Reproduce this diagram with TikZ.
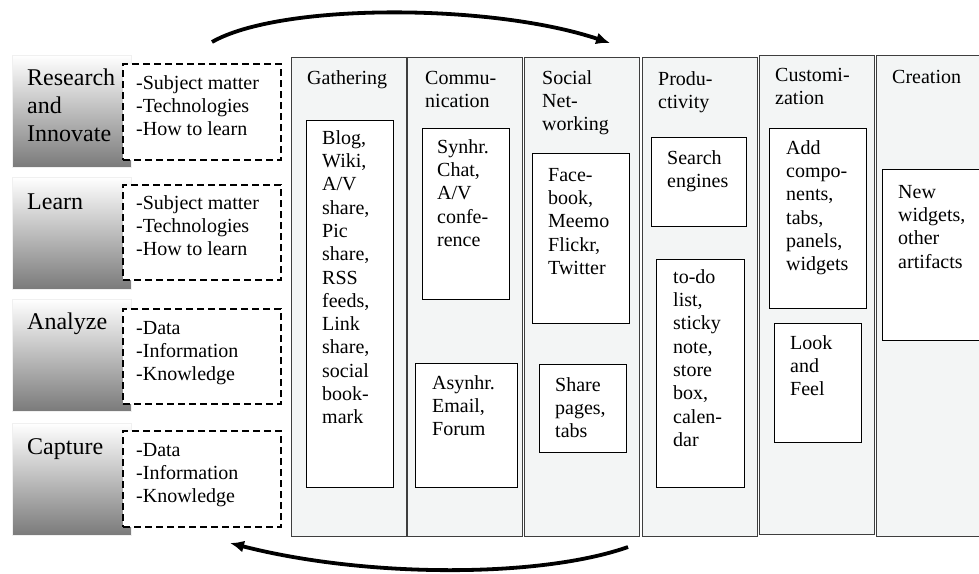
\documentclass[tikz,border=0pt]{standalone}
\usepackage{fontspec}
\setmainfont{Liberation Serif}
\usetikzlibrary{arrows.meta}
\definecolor{colfill}{RGB}{243,245,245}
\definecolor{colline}{RGB}{62,62,62}

\tikzset{
  stage/.style={anchor=north west, inner sep=0pt, minimum width=119pt, minimum height=112pt,
    top color=white, bottom color=black!52, draw=black!6},
  topics/.style={anchor=north west, inner sep=0pt, minimum width=158pt, fill=white, draw,
    line width=2pt, dash pattern=on 7pt off 4pt},
  column/.style={anchor=north west, inner sep=0pt, minimum width=115pt, fill=colfill,
    draw=colline, line width=1.1pt},
  tool/.style={anchor=north west, inner sep=0pt, fill=white, draw, line width=0.9pt},
  txt/.style={anchor=north west, inner sep=0pt, align=left, font=\fontsize{20}{23.3}\selectfont},
  bigtxt/.style={anchor=north west, inner sep=0pt, align=left, font=\fontsize{24}{28}\selectfont},
  turnarrow/.style={line width=3.8pt, -{Latex[length=14pt,width=12pt]}}
}

\begin{document}
\begin{tikzpicture}[x=1pt,y=-1pt]
\useasboundingbox (0,0) rectangle (979,573);
% stages on the left
\node[stage] (research) at (12,55) {};
\node[stage] (learn) at (12,177) {};
\node[stage] (analyze) at (12,299) {};
\node[stage] (capture) at (12,423) {};
\node[bigtxt] (researchtxt) at (27,65.4) {\strut Research\\and\\Innovate};
\node[bigtxt] (learntxt) at (27,189.4) {\strut Learn};
\node[bigtxt] (analyzetxt) at (27,309.4) {\strut Analyze};
\node[bigtxt] (capturetxt) at (27,434.4) {\strut Capture};
% what each stage deals with
\node[topics, minimum height=96pt] (researchtop) at (122,63) {};
\node[topics, minimum height=95pt] (learntop) at (122,184) {};
\node[topics, minimum height=95pt] (analyzetop) at (122,308) {};
\node[topics, minimum height=96pt] (capturetop) at (122,430) {};
\node[txt] (researchlist) at (136,72.7) {\strut -Subject matter\\-Technologies\\-How to learn};
\node[txt] (learnlist) at (136,192.7) {\strut -Subject matter\\-Technologies\\-How to learn};
\node[txt] (analyzelist) at (136,317.7) {\strut -Data\\-Information\\-Knowledge};
\node[txt] (capturelist) at (136,439.7) {\strut -Data\\-Information\\-Knowledge};
% columns
\node[column, minimum height=479pt] (gather) at (291,57) {};
\node[column, minimum height=479pt] (commu) at (407,57) {};
\node[column, minimum height=479pt] (social) at (524,57) {};
\node[column, minimum height=479pt] (produ) at (642,57) {};
\node[column, minimum height=479pt] (custom) at (759,55) {};
\node[column, minimum height=481pt, minimum width=125pt] (create) at (876,55) {};
\node[txt] (gathertitle) at (307,67.7) {\strut Gathering};
\node[txt] (commutitle) at (425,67.7) {\strut Commu-\\nication};
\node[txt] (socialtitle) at (542,67.7) {\strut Social\\Net-\\working};
\node[txt] (produtitle) at (658,68.7) {\strut Produ-\\ctivity};
\node[txt] (customtitle) at (775,64.7) {\strut Customi-\\zation};
\node[txt] (createtitle) at (892,66.7) {\strut Creation};
% tools inside the columns
\node[tool, minimum width=87pt, minimum height=367pt] (blog) at (306,120) {};
\node[tool, minimum width=87pt, minimum height=171pt] (synhr) at (422,128) {};
\node[tool, minimum width=102pt, minimum height=124pt] (asynhr) at (415,363) {};
\node[tool, minimum width=97pt, minimum height=170pt] (face) at (532,153) {};
\node[tool, minimum width=87pt, minimum height=88pt] (share) at (539,364) {};
\node[tool, minimum width=95pt, minimum height=89pt] (search) at (651,137) {};
\node[tool, minimum width=88pt, minimum height=228pt] (todo) at (656,259) {};
\node[tool, minimum width=97pt, minimum height=180pt] (addcomp) at (769,128) {};
\node[tool, minimum width=87pt, minimum height=119pt] (look) at (774,323) {};
\node[tool, minimum width=110pt, minimum height=171pt] (widgets) at (882,169) {};
\node[txt] (blogtxt) at (322,127.7) {\strut Blog,\\Wiki,\\A/V\\share,\\Pic\\share,\\RSS\\feeds,\\Link\\share,\\social\\book-\\mark};
\node[txt] (synhrtxt) at (437,136.7) {\strut Synhr.\\Chat,\\A/V\\confe-\\rence};
\node[txt] (asynhrtxt) at (432,372.7) {\strut Asynhr.\\Email,\\Forum};
\node[txt] (facetxt) at (548,164.7) {\strut Face-\\book,\\Meemo\\Flickr,\\Twitter};
\node[txt] (sharetxt) at (555,374.7) {\strut Share\\pages,\\tabs};
\node[txt] (searchtxt) at (667,147.7) {\strut Search\\engines};
\node[txt] (todotxt) at (673,266.7) {\strut to-do\\list,\\sticky\\note,\\store\\box,\\calen-\\dar};
\node[txt] (addtxt) at (786,137.7) {\strut Add\\compo-\\nents,\\tabs,\\panels,\\widgets};
\node[txt] (looktxt) at (790,332.7) {\strut Look\\and\\Feel};
\node[txt] (widgetstxt) at (898,181.7) {\strut New\\widgets,\\other\\artifacts};
% cycle arrows
\coordinate (topstart) at (212,42);
\coordinate (topend) at (610,43);
\coordinate (botstart) at (628,547);
\coordinate (botend) at (230,543);
\draw[turnarrow] (topstart) .. controls (280,3) and (490,3) .. (topend);
\draw[turnarrow] (botstart) .. controls (540,578) and (366,578) .. (botend);
\end{tikzpicture}
\end{document}
